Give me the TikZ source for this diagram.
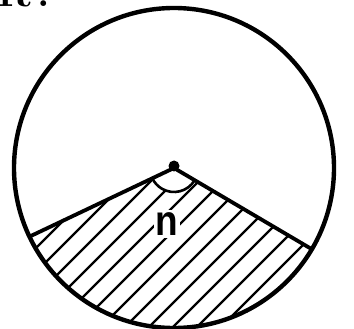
\documentclass[tikz,border=0pt]{standalone}
\usepackage{fontspec}
\usetikzlibrary{calc}
\newfontfamily\nfont{Liberation Sans}
\begin{document}
\begin{tikzpicture}[x=1pt,y=-1pt,
  rim/.style={line width=4.4pt},
  side/.style={line width=3.8pt},
  hatch/.style={line width=2.2pt},
  lbl/.style={font=\nfont\bfseries\fontsize{37}{37}\selectfont, fill=white, inner sep=2pt}]
\useasboundingbox (0,0) rectangle (354,329);
\coordinate (C) at (174,168);
\coordinate (A) at ($(C)+(154.6:159)$);
\coordinate (B) at ($(C)+(30.5:159)$);
% hatching inside sector
\begin{scope}
  \clip (C) -- (B) arc[start angle=30.5, end angle=154.6, radius=159] -- cycle;
  \foreach \k in {260,284,...,620} {
    \draw[hatch] (\k-340,340) -- (\k-120,120);
  }
  \fill[white] (C) -- ($(C)+(30.5:24)$) arc[start angle=30.5, end angle=154.6, radius=24] -- cycle;
\end{scope}
\node[lbl, yscale=1.15] (n) at (167,224) {n};
% circle
\node[draw, rim, circle, minimum size=320pt, inner sep=0pt] (circ) at (C) {};
% sides
\draw[side, line join=round] (A) -- (C) -- (B);
% angle marker
\draw[line width=2.6pt] ($(C)+(30.5:24)$) arc[start angle=30.5, end angle=154.6, radius=24];
\fill (C) ++(0,-2) circle (5.5pt);
% title text, cut off at top
\node[anchor=base west, inner sep=0pt, font=\bfseries\fontsize{40}{40}\selectfont] (title) at (-3,7) {R\,:};
\end{tikzpicture}
\end{document}
